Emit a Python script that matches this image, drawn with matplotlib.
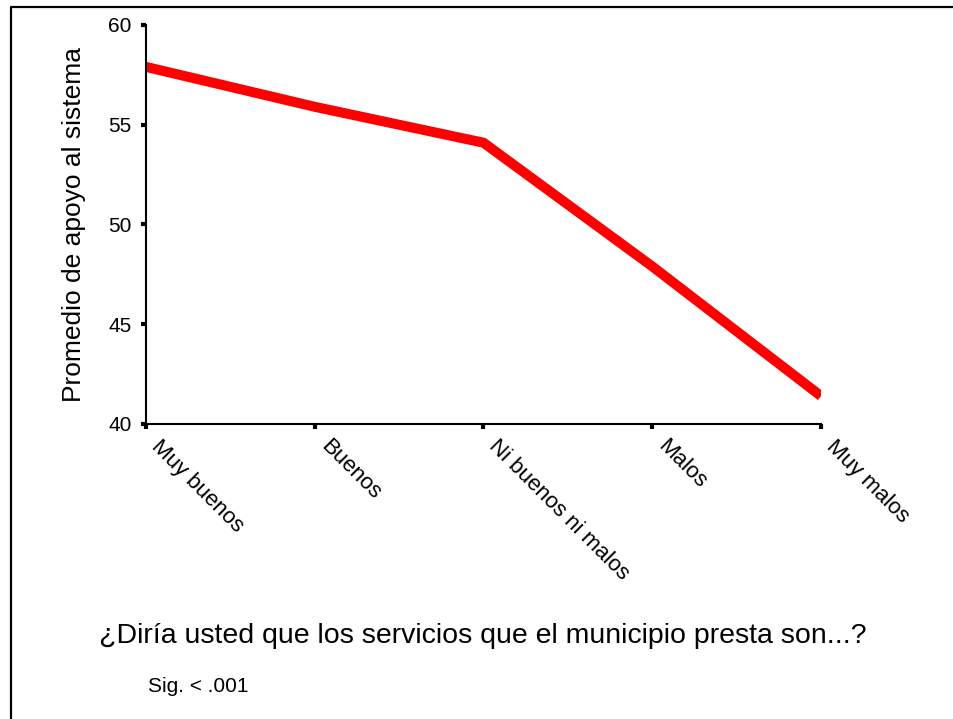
import matplotlib
matplotlib.use("Agg")
import matplotlib.pyplot as plt
from matplotlib.lines import Line2D
from matplotlib.transforms import ScaledTranslation, blended_transform_factory

plt.rcParams['font.family'] = ['Liberation Sans', 'DejaVu Sans']

categories = ["Muy buenos", "Buenos", "Ni buenos ni malos", "Malos", "Muy malos"]
values = [57.9, 55.9, 54.1, 47.9, 41.4]
yticks = [40, 45, 50, 55, 60]

W, H = 954, 719
fig = plt.figure(figsize=(W / 100, H / 100), dpi=100)
ax = fig.add_axes([146 / W, 1 - 424 / H, (821 - 146) / W, (424 - 25) / H])

x = list(range(len(categories)))
ax.plot(x, values, color="#ff0000", linewidth=7.2, solid_capstyle="butt",
        solid_joinstyle="miter")

ax.set_xlim(0, len(categories) - 1)
ax.set_ylim(40, 60)
ax.set_yticks(yticks)
ax.set_yticklabels([str(v) for v in yticks], fontsize=15)
ax.set_xticks(x)
ax.set_xticklabels([])

# rotated category labels below the axis
trans = blended_transform_factory(ax.transData, ax.transAxes) + \
    ScaledTranslation(5 / 100, -23 / 100, fig.dpi_scale_trans)
for xi, cat in zip(x, categories):
    ax.text(xi, 0, cat, transform=trans, fontsize=16, rotation=-45,
            rotation_mode="anchor", ha="left", va="baseline", clip_on=False)

for s in ["top", "right"]:
    ax.spines[s].set_visible(False)
for s in ["left", "bottom"]:
    ax.spines[s].set_linewidth(1.5)
ax.tick_params(axis="both", direction="out", length=3.5, width=3, color="black")
ax.tick_params(axis="y", pad=7)

ax.set_ylabel("Promedio de apoyo al sistema", fontsize=19)
ax.yaxis.set_label_coords((86 - 146) / (821 - 146), 0.5)

fig.text(483 / W, 1 - 643 / H,
         "¿Diría usted que los servicios que el municipio presta son...?",
         fontsize=20.5, ha="center", va="baseline")
fig.text(148 / W, 1 - 692 / H, "Sig. < .001", fontsize=15, ha="left", va="baseline")

# outer frame (left and top edges)
fig.add_artist(Line2D([11 / W, 11 / W, 1.01], [-0.01, 1 - 7 / H, 1 - 7 / H],
                      transform=fig.transFigure, color="black", linewidth=1.6))

fig.savefig("out.png", dpi=100)
